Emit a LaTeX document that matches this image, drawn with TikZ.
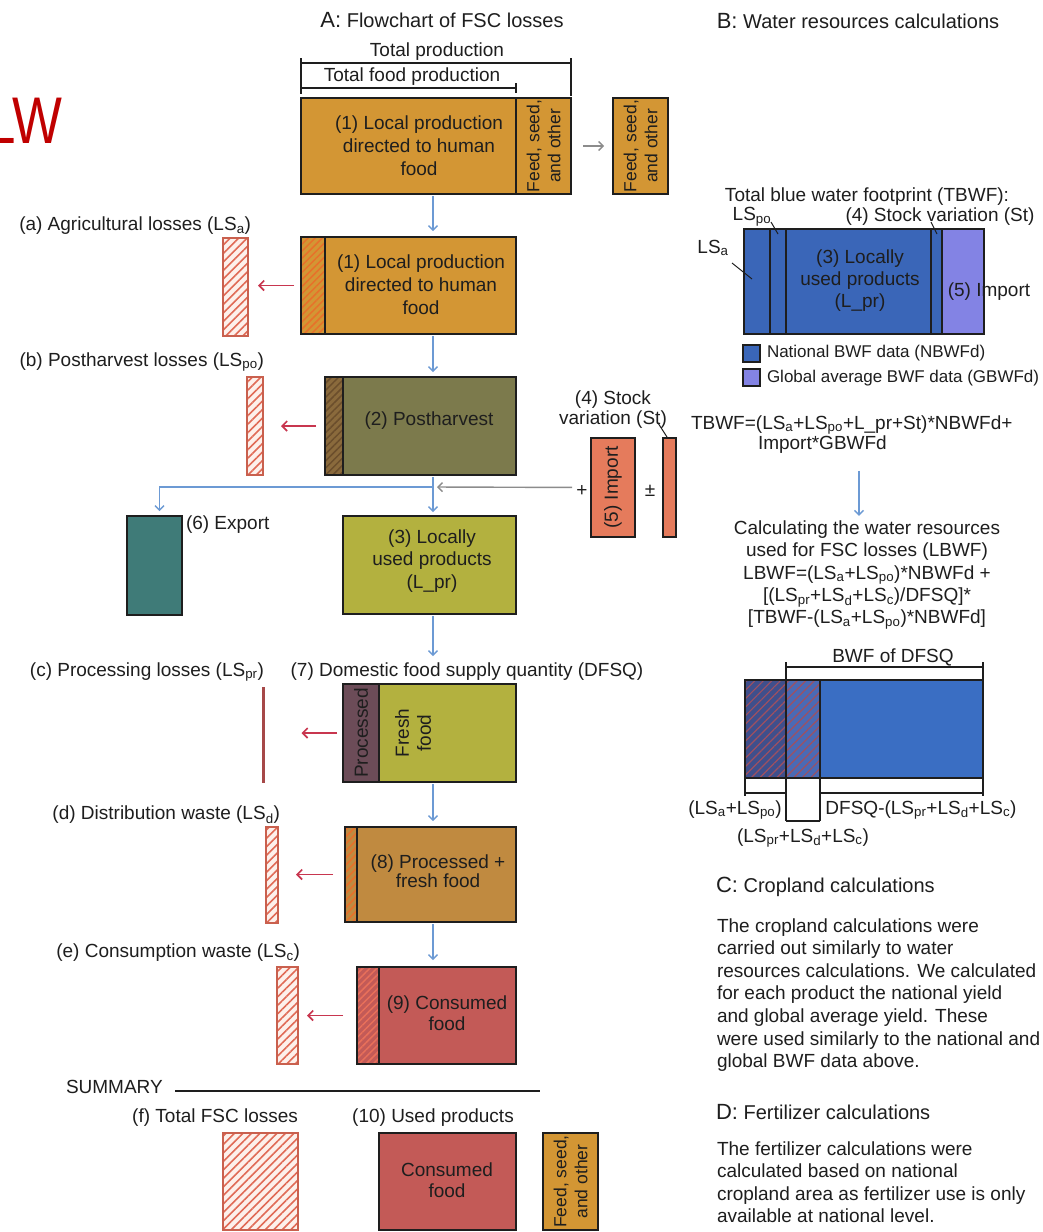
\documentclass[tikz,border=0pt]{standalone}
\usepackage{fontspec}
\setmainfont{Liberation Sans}
\usetikzlibrary{arrows.meta,patterns.meta,calc}
\definecolor{ochre}{HTML}{D39634}
\definecolor{olive}{HTML}{7C7A4C}
\definecolor{olivebr}{HTML}{8A6A3C}
\definecolor{lime}{HTML}{B3B13F}
\definecolor{teal2}{HTML}{3F7B78}
\definecolor{salmon}{HTML}{E57B5C}
\definecolor{procc}{HTML}{6C4C58}
\definecolor{tan2}{HTML}{C08A40}
\definecolor{rose}{HTML}{C35A57}
\definecolor{arrblue}{HTML}{6C9AD4}
\definecolor{arrred}{HTML}{C8364F}
\definecolor{arrgray}{HTML}{8C8C8C}
\definecolor{hatchred}{HTML}{E06A55}
\definecolor{lossedge}{HTML}{C9604E}
\definecolor{pinkbg}{HTML}{FDF0EB}
\definecolor{bwfblue}{HTML}{3A66B8}
\definecolor{bwfimp}{HTML}{8383E4}
\definecolor{navy2}{HTML}{3F4F8C}
\definecolor{mid2}{HTML}{4A6AB5}
\definecolor{dfsqblue}{HTML}{3A6EC3}
\definecolor{lossline}{HTML}{A64848}
\definecolor{txt}{HTML}{1E1E1E}
\definecolor{wmred}{HTML}{C00000}
\definecolor{stripor}{HTML}{E8702A}
\definecolor{stripbr}{HTML}{6B4E2C}
\definecolor{stripro}{HTML}{E8705A}
\definecolor{bwfhatch}{HTML}{A05060}
\tikzset{
 blk/.style={draw=txt, line width=1.5pt, inner sep=0pt, outer sep=0pt, anchor=north west},
 lossbox/.style={blk, draw=lossedge, line width=1.1pt, preaction={fill=pinkbg}, pattern={Lines[angle=45,distance=6pt,line width=1.6pt]}, pattern color=hatchred},
 stripbox/.style={blk, line width=1.4pt, pattern={Lines[angle=45,distance=5pt,line width=1.5pt]}},
 lbl/.style={inner sep=0pt, outer sep=0pt, text=txt, font=\fontsize{19}{23}\selectfont},
 rlbl/.style={lbl, rotate=90, align=center},
 barrow/.style={draw=arrblue, line width=1.4pt, -{Straight Barb[length=4.5pt,width=9pt]}},
 rarrow/.style={draw=arrred, line width=1.6pt, -{Straight Barb[length=5pt,width=10pt]}},
 garrow/.style={draw=arrgray, line width=1.4pt, -{Straight Barb[length=4.5pt,width=9pt]}},
 brk/.style={draw=txt, line width=1.2pt},
}
\begin{document}
\begin{tikzpicture}[x=1pt,y=-1pt]
\useasboundingbox (0,0) rectangle (1043,1232);
\fill[white] (0,0) rectangle (1043,1232);

% watermark fragment
\node[inner sep=0pt, text=wmred, font=\fontsize{66}{70}\selectfont, xscale=0.8, anchor=base east] (wm) at (62,143) {LW};

% ---------------- Panel A ----------------
\node[lbl, font=\fontsize{20}{24}\selectfont] (tA) at (442,20) {{\fontsize{22}{24}\selectfont A:} Flowchart of FSC losses};

\node[lbl] (ltp) at (437,52) {Total production};
\node[lbl] (ltf) at (412,77) {Total food production};
\draw[brk] (301,58) -- (301,94);
\draw[brk] (301,63) -- (571,63);
\draw[brk] (571,58) -- (571,96);
\draw[brk] (301,88) -- (516,88);
\draw[brk] (516,83) -- (516,93);

% box 1
\node[blk, fill=ochre, minimum width=215pt, minimum height=96pt] (b1m) at (301,98) {};
\node[blk, fill=ochre, minimum width=55pt, minimum height=96pt] (b1f) at (516,98) {};
\node[lbl, align=center] (b1t) at (419,146) {(1) Local production\\directed to human\\food};
\node[rlbl, font=\fontsize{17.5}{21}\selectfont] (b1ft) at (b1f.center) {Feed, seed,\\and other};
\node[blk, fill=ochre, minimum width=55pt, minimum height=96pt] (fs1) at (613,98) {};
\node[rlbl, font=\fontsize{17.5}{21}\selectfont] (fs1t) at (fs1.center) {Feed, seed,\\and other};
\draw[garrow, shorten <=12pt, shorten >=9pt] (b1f.east) -- (fs1.west);

\coordinate (ax) at (433,0);

% box 2
\node[blk, fill=ochre, minimum width=215pt, minimum height=97pt] (b2) at (301,237) {};
\node[stripbox, preaction={fill=ochre}, pattern color=stripor, minimum width=24pt, minimum height=97pt] (b2s) at (301,237) {};
\node[lbl, align=center] (b2t) at (421,285) {(1) Local production\\directed to human\\food};
\draw[barrow, shorten <=2pt, shorten >=6pt] (b1m.south -| ax) -- (b2.north -| ax);

% loss a
\node[lossbox, minimum width=25pt, minimum height=98pt] (la) at (223,238) {};
\node[lbl, anchor=east] (lat) at (251,226) {(a) Agricultural losses (LS\textsubscript{a})};
\draw[rarrow, shorten <=7pt, shorten >=10pt] (b2.west) -- (la.east |- b2.west);

% box 3 postharvest
\node[blk, fill=olive, minimum width=191pt, minimum height=98pt] (b3) at (325,377) {};
\node[stripbox, preaction={fill=olivebr}, pattern color=stripbr, minimum width=18pt, minimum height=98pt] (b3s) at (325,377) {};
\node[lbl] (b3t) at (429,421) {(2) Postharvest};
\draw[barrow, shorten <=2pt, shorten >=5pt] (b2.south -| ax) -- (b3.north -| ax);

% loss b
\node[lossbox, minimum width=16pt, minimum height=98pt] (lb) at (247,377) {};
\node[lbl, anchor=east] (lbt) at (264,362) {(b) Postharvest losses (LS\textsubscript{po})};
\draw[rarrow, shorten <=9pt, shorten >=18pt] (b3.west) -- (lb.east |- b3.west);

% box 4 locally used
\node[blk, fill=lime, minimum width=173pt, minimum height=98pt] (b4) at (343,516) {};
\node[lbl, align=center, font=\fontsize{19}{22.5}\selectfont] (b4t) at (432,561) {(3) Locally\\used products\\(L\_pr)};
\coordinate (split) at (433,487);
\draw[barrow, shorten <=2pt, shorten >=4pt] (b3.south -| ax) -- (b4.north -| ax);

% export
\node[blk, fill=teal2, minimum width=55pt, minimum height=99pt] (exp) at (127,516) {};
\node[lbl, anchor=west] (expt) at (186,525) {(6) Export};
\draw[barrow, shorten >=5pt] (split) -| ($(exp.north)+(5,0)$);

% import and stock
\node[blk, fill=salmon, minimum width=44pt, minimum height=99pt] (imp) at (591,438) {};
\node[rlbl] (impt) at (imp.center) {(5) Import};
\node[blk, fill=salmon, minimum width=13pt, minimum height=99pt] (stk) at (663,438) {};
\node[lbl, align=center, font=\fontsize{19}{20}\selectfont] (stkt) at (613,410) {(4) Stock\\variation (St)};
\draw[brk, line width=1pt] (658,423) -- (667,437);
\node[lbl] (plus) at (582,491) {+};
\node[lbl] (pm) at (650,491) {±};
\draw[garrow, shorten <=19pt, shorten >=4pt] (imp.west) -- (split);

% DFSQ
\node[lbl] (dfl) at (467,672) {(7) Domestic food supply quantity (DFSQ)};
\draw[barrow, shorten <=2pt, shorten >=7pt] (b4.south -| ax) -- (dfl.north -| ax);
\node[blk, fill=lime, minimum width=173pt, minimum height=98pt] (dfsq) at (343,684) {};
\node[blk, fill=procc, minimum width=36pt, minimum height=98pt] (dfsqs) at (343,684) {};
\node[rlbl] (dfps) at (dfsqs.center) {Processed};
\node[rlbl, font=\fontsize{19}{22}\selectfont] (dfft) at (413,733) {Fresh\\food};

% loss c
\node[lbl, anchor=east] (lct) at (264,672) {(c) Processing losses (LS\textsubscript{pr})};
\node[blk, draw=none, fill=lossline, minimum width=3pt, minimum height=96pt] (lc) at (261.5,687) {};
\draw[rarrow, shorten <=6pt, shorten >=37pt] (dfsq.west) -- (lc.east |- dfsq.west);

% box 8
\node[blk, fill=tan2, minimum width=171pt, minimum height=95pt] (b8) at (345,827) {};
\node[stripbox, preaction={fill=tan2}, pattern color=stripor, minimum width=12pt, minimum height=95pt] (b8s) at (345,827) {};
\node[lbl, align=center, font=\fontsize{19}{19.5}\selectfont] (b8t) at (438,871) {(8) Processed +\\fresh food};
\draw[barrow, shorten <=2pt, shorten >=6pt] (dfsq.south -| ax) -- (b8.north -| ax);

% loss d
\node[lossbox, minimum width=12pt, minimum height=96pt] (ld) at (266,827) {};
\node[lbl, anchor=east] (ldt) at (280,815) {(d) Distribution waste (LS\textsubscript{d})};
\draw[rarrow, shorten <=12pt, shorten >=18pt] (b8.west) -- (ld.east |- b8.west);

% box 9
\node[blk, fill=rose, minimum width=159pt, minimum height=97pt] (b9) at (357,967) {};
\node[stripbox, preaction={fill=rose}, pattern color=stripro, minimum width=22pt, minimum height=97pt] (b9s) at (357,967) {};
\node[lbl, align=center, font=\fontsize{19}{21}\selectfont] (b9t) at (447,1013) {(9) Consumed\\food};
\draw[barrow, shorten <=2pt, shorten >=7pt] (b8.south -| ax) -- (b9.north -| ax);

% loss e
\node[lossbox, minimum width=21pt, minimum height=97pt] (le) at (277,967) {};
\node[lbl, anchor=east] (let) at (300,953) {(e) Consumption waste (LS\textsubscript{c})};
\draw[rarrow, shorten <=14pt, shorten >=9pt] (b9.west) -- (le.east |- b9.west);

% summary
\node[lbl, anchor=west] (sum) at (66,1087) {SUMMARY};
\draw[brk, line width=1.5pt] (175,1091) -- (540,1091);
\node[lossbox, minimum width=75pt, minimum height=97pt] (lf) at (223,1133) {};
\node[lbl, anchor=east] (lft) at (298,1118) {(f) Total FSC losses};
\node[lbl] (ust) at (433,1118) {(10) Used products};
\node[blk, fill=rose, minimum width=137pt, minimum height=97pt] (used) at (379,1133) {};
\node[lbl, align=center, font=\fontsize{19}{21}\selectfont] (usedt) at (447,1180) {Consumed\\food};
\node[blk, fill=ochre, minimum width=55pt, minimum height=97pt] (fs2) at (543,1133) {};
\node[rlbl, font=\fontsize{17.5}{21}\selectfont] (fs2t) at (fs2.center) {Feed, seed,\\and other};

% ---------------- Panel B ----------------
\node[lbl, font=\fontsize{20}{24}\selectfont] (tB) at (858,21) {{\fontsize{22}{24}\selectfont B:} Water resources calculations};
\node[lbl] (tbw) at (867,197) {Total blue water footprint (TBWF):};
\node[lbl] (lspo) at (752,217) {LS\textsubscript{po}};
\node[lbl] (stv) at (940,217) {(4) Stock variation (St)};
\node[lbl] (lsa) at (713,248) {LS\textsubscript{a}};

\node[blk, line width=1.3pt, fill=bwfblue, minimum width=26pt, minimum height=105pt] (p1) at (744,229) {};
\node[blk, line width=1.3pt, fill=bwfblue, minimum width=16pt, minimum height=105pt] (p2) at (770,229) {};
\node[blk, line width=1.3pt, fill=bwfblue, minimum width=145pt, minimum height=105pt] (p3) at (786,229) {};
\node[blk, line width=1.3pt, fill=bwfblue, minimum width=11pt, minimum height=105pt] (p4) at (931,229) {};
\node[blk, line width=1.3pt, fill=bwfimp, minimum width=42pt, minimum height=105pt] (p5) at (942,229) {};
\node[lbl, align=center, font=\fontsize{19}{22}\selectfont] (p3t) at (860,281) {(3) Locally\\used products\\(L\_pr)};
\node[lbl] (p5t) at (989,292) {(5) Import};
\draw[brk, line width=1pt] (732,263) -- (752,279);
\draw[brk, line width=1pt] (771,222) -- (778,234);
\draw[brk, line width=1pt] (931,222) -- (937,234);

% legend
\node[blk, line width=1.1pt, fill=bwfblue, minimum width=17pt, minimum height=17pt] (sq1) at (743,345) {};
\node[lbl, anchor=west, font=\fontsize{17}{20}\selectfont] (sq1t) at (767,353) {National BWF data (NBWFd)};
\node[blk, line width=1.1pt, fill=bwfimp, minimum width=17pt, minimum height=17pt] (sq2) at (743,369) {};
\node[lbl, anchor=west, font=\fontsize{17}{20}\selectfont] (sq2t) at (767,378) {Global average BWF data (GBWFd)};

% formula
\node[lbl, anchor=west] (f1) at (691,425) {TBWF=(LS\textsubscript{a}+LS\textsubscript{po}+L\_pr+St)*NBWFd+};
\node[lbl, anchor=west] (f2) at (758,445) {Import*GBWFd};
\node[lbl, align=center, font=\fontsize{19}{22.3}\selectfont] (calc) at (867,575) {Calculating the water resources\\used for FSC losses (LBWF)\\LBWF=(LS\textsubscript{a}+LS\textsubscript{po})*NBWFd +\\{[}(LS\textsubscript{pr}+LS\textsubscript{d}+LS\textsubscript{c})/DFSQ]*\\{[}TBWF-(LS\textsubscript{a}+LS\textsubscript{po})*NBWFd]};
\coordinate (bx) at (859,0);
\draw[barrow, shorten <=17pt, shorten >=5pt] (f2.south -| bx) -- (calc.north -| bx);

% BWF of DFSQ bar
\node[lbl] (bwft) at (893,657) {BWF of DFSQ};
\node[blk, line width=1.3pt, preaction={fill=navy2}, pattern={Lines[angle=45,distance=6pt,line width=1.2pt]}, pattern color=bwfhatch, minimum width=41pt, minimum height=98pt] (q1) at (745,680) {};
\node[blk, line width=1.3pt, preaction={fill=mid2}, pattern={Lines[angle=45,distance=6pt,line width=1.2pt]}, pattern color=bwfhatch, minimum width=34pt, minimum height=98pt] (q2) at (786,680) {};
\node[blk, line width=1.3pt, fill=dfsqblue, minimum width=163pt, minimum height=98pt] (q3) at (820,680) {};
\draw[brk, line width=2pt] (q3.north west) -- (q3.south west);
\draw[brk] (786,662) -- (786,821);
\draw[brk] (786,667) -- (983,667);
\draw[brk] (983,662) -- (983,680);
\draw[brk] (745,778) -- (745,796);
\draw[brk] (745,793) -- (786,793);
\draw[brk] (820,778) -- (820,821);
\draw[brk] (820,793) -- (983,793);
\draw[brk] (983,778) -- (983,796);
\draw[brk] (786,821) -- (820,821);
\node[lbl] (bl1) at (735,810) {(LS\textsubscript{a}+LS\textsubscript{po})};
\node[lbl] (bl2) at (921,810) {DFSQ-(LS\textsubscript{pr}+LS\textsubscript{d}+LS\textsubscript{c})};
\node[lbl] (bl3) at (803,838) {(LS\textsubscript{pr}+LS\textsubscript{d}+LS\textsubscript{c})};

% ---------------- Panels C, D ----------------
\node[lbl, anchor=west, font=\fontsize{20}{24}\selectfont] (tC) at (716,887) {{\fontsize{22}{24}\selectfont C:} Cropland calculations};
\node[lbl, anchor=west, align=left, font=\fontsize{19}{22.6}\selectfont] (pC) at (717,995) {The cropland calculations were\\carried out similarly to water\\resources calculations. We calculated\\for each product the national yield\\and global average yield. These\\were used similarly to the national and\\global BWF data above.};
\node[lbl, anchor=west, font=\fontsize{20}{24}\selectfont] (tD) at (716,1112) {{\fontsize{22}{24}\selectfont D:} Fertilizer calculations};
\node[lbl, anchor=west, align=left, font=\fontsize{19}{22.4}\selectfont] (pD) at (717,1182) {The fertilizer calculations were\\calculated based on national\\cropland area as fertilizer use is only\\available at national level.};
\end{tikzpicture}
\end{document}
